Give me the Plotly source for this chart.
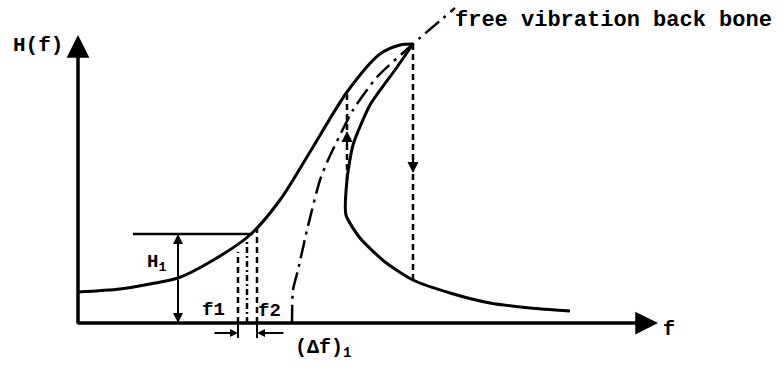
import plotly.graph_objects as go

# Frequency-response sketch of a softening/hardening oscillator (schematic units)
upper_f = [0, 42, 72, 100, 132, 172, 202, 232, 269, 302, 322, 335]
upper_H = [31, 34, 39, 45, 61, 88, 123, 171, 231, 269, 278, 279]

lower_f = [335, 317, 292, 275, 269, 268, 282, 307, 335, 372, 412, 452, 492]
lower_H = [279, 253, 218, 178, 143, 108, 85, 61, 43, 30, 20, 15, 12]

backbone_f = [214, 215, 220, 229, 242, 250, 275, 299, 335, 377]
backbone_H = [0, 33, 53, 93, 143, 163, 213, 246, 279, 315]

# Jump frequencies (dashed verticals) and the H1 level
jump_up_f, jump_up_top, jump_up_bot = 269, 231, 143
jump_down_f, jump_down_top, jump_down_bot = 335, 279, 43
H1_level, H1_f = 89, 100
f1_f, fmid_f, f2_f = 160, 169, 179
f1_top, fmid_top, f2_top = 71, 81, 95

FONT = "Liberation Mono"
BLACK = "#000000"

fig = go.Figure()

fig.add_trace(go.Scatter(x=upper_f, y=upper_H, mode="lines",
                         line=dict(color=BLACK, width=3, shape="spline", smoothing=0.8),
                         hoverinfo="skip"))
fig.add_trace(go.Scatter(x=lower_f, y=lower_H, mode="lines",
                         line=dict(color=BLACK, width=3, shape="spline", smoothing=0.6),
                         hoverinfo="skip"))
fig.add_trace(go.Scatter(x=backbone_f, y=backbone_H, mode="lines",
                         line=dict(color=BLACK, width=2.5, dash="18px,6px,3px,6px",
                                   shape="spline", smoothing=0.6),
                         hoverinfo="skip"))

shapes = []
def vline(f, h0, h1, dash="dash", w=2.5):
    shapes.append(dict(type="line", xref="x", yref="y", x0=f, x1=f, y0=h0, y1=h1,
                       line=dict(color=BLACK, width=w, dash=dash)))

vline(jump_up_f, jump_up_bot, jump_up_top, dash="6px,4px")
vline(jump_down_f, jump_down_bot, jump_down_top, dash="6px,4px")
vline(f1_f, 0, f1_top, dash="6px,4px")
vline(fmid_f, 0, fmid_top, dash="6px,3px,2px,3px")
vline(f2_f, 0, f2_top, dash="6px,4px")
# ticks below the axis marking the interval
vline(f1_f, 0, -15, dash="solid", w=2)
vline(f2_f, 0, -15, dash="solid", w=2)
# H1 level line
shapes.append(dict(type="line", xref="x", yref="y", x0=55, x1=175, y0=H1_level, y1=H1_level,
                   line=dict(color=BLACK, width=2.5)))

annotations = []
def arrow(x, y, ax, ay, head=2, size=1.2, width=3):
    annotations.append(dict(x=x, y=y, ax=ax, ay=ay, xref="x", yref="y", axref="x", ayref="y",
                            showarrow=True, arrowhead=head, arrowsize=size, arrowwidth=width,
                            arrowcolor=BLACK, text=""))

# axes
arrow(0, 288, 0, -2, head=2, size=1.3, width=3.5)
arrow(580, 0, -2, 0, head=2, size=1.3, width=3.5)
# H1 double arrow
arrow(H1_f, H1_level, H1_f, 45, head=2, size=1.0, width=2)
arrow(H1_f, 0, H1_f, 45, head=2, size=1.0, width=2)
# jump direction arrows
arrow(jump_up_f, 192, jump_up_f, 172, head=2, size=1.1, width=2)
arrow(jump_down_f, 150, jump_down_f, 170, head=2, size=1.1, width=2)
# interval arrows under the axis
arrow(f1_f, -10, f1_f - 25, -10, head=2, size=0.8, width=2)
arrow(f2_f, -10, f2_f + 28, -10, head=2, size=0.8, width=2)

def label(text, x, y, size=15, anchor="center"):
    annotations.append(dict(x=x, y=y, xref="x", yref="y", text=text, showarrow=False,
                            xanchor=anchor, yanchor="middle",
                            font=dict(family=FONT, size=size, color=BLACK)))

label("<b>H(f)</b>", -40, 278, size=21)
label("<b>f</b>", 591, -6, size=20)
label("<b>H<sub>1</sub></b>", 78, 60, size=19)
label("<b>f1</b>", 135, 13, size=19)
label("<b>f2</b>", 191, 12, size=19)
label("<b>(Δf)<sub>1</sub></b>", 215, -25, size=20, anchor="left")
label("<b>free vibration back bone</b>", 375, 303, size=22, anchor="left")

fig.update_layout(
    width=784, height=371,
    margin=dict(l=0, r=0, t=0, b=0),
    paper_bgcolor="white", plot_bgcolor="white",
    showlegend=False,
    xaxis=dict(range=[-78, 706], visible=False, fixedrange=True),
    yaxis=dict(range=[-48, 323], visible=False, fixedrange=True),
    shapes=shapes, annotations=annotations,
)

fig.write_html("out.html")
